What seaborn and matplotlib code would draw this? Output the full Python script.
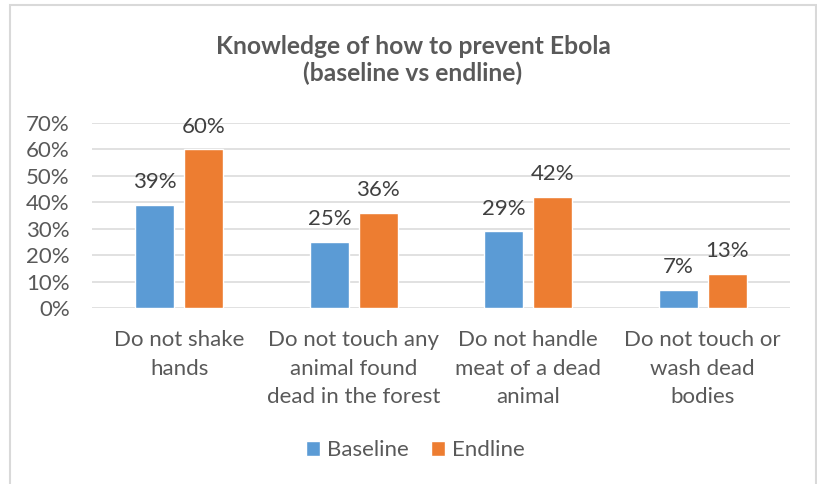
import matplotlib
matplotlib.use("Agg")
import matplotlib.pyplot as plt
import seaborn as sns
import pandas as pd
from matplotlib.patches import Rectangle

categories = ["Do not shake\nhands",
              "Do not touch any\nanimal found\ndead in the forest",
              "Do not handle\nmeat of a dead\nanimal",
              "Do not touch or\nwash dead\nbodies"]
series_names = ["Baseline", "Endline"]
baseline = [39, 25, 29, 7]
endline = [60, 36, 42, 13]
yticks = [0, 10, 20, 30, 40, 50, 60, 70]
title = "Knowledge of how to prevent Ebola\n(baseline vs endline)"

df = pd.DataFrame({
    "category": categories * 2,
    "series": [series_names[0]] * len(categories) + [series_names[1]] * len(categories),
    "value": baseline + endline,
})

sns.set_theme(style="white")
plt.rcParams["font.family"] = ["Lato", "DejaVu Sans"]

W, H = 817, 484
FS = 16
fig = plt.figure(figsize=(W / 100, H / 100), dpi=100)
ax = fig.add_axes([92 / W, 1 - 308 / H, (790 - 92) / W, (308 - 123) / H])

sns.barplot(data=df, x="category", y="value", hue="series",
            palette=["#5B9BD5", "#ED7D31"], width=0.56, gap=0.2,
            saturation=1, ax=ax)

ax.set_xlim(-0.5, len(categories) - 0.5)
ax.set_ylim(0, 70)
ax.set_yticks(yticks)
ax.set_yticklabels([f"{t}%" for t in yticks])
ax.yaxis.grid(True, color="#D9D9D9", linewidth=1.1)
ax.set_axisbelow(True)
for s in ax.spines.values():
    s.set_visible(False)
ax.set_xlabel("")
ax.set_ylabel("")
ax.tick_params(axis="y", length=0, pad=16, labelsize=FS, labelcolor="#595959")
ax.tick_params(axis="x", length=0, pad=16, labelsize=FS, labelcolor="#595959")
for lab in ax.get_xticklabels():
    lab.set_linespacing(1.52)

for c in ax.containers:
    ax.bar_label(c, fmt="%d%%", padding=9, fontsize=FS, color="#404040")

sns.move_legend(ax, loc="center", bbox_to_anchor=(415 / W, 1 - 450 / H),
                bbox_transform=fig.transFigure, ncol=2, frameon=False,
                title=None, fontsize=FS, handlelength=0.65, handleheight=0.65,
                handletextpad=0.3, columnspacing=1.0)
for t in ax.get_legend().get_texts():
    t.set_color("#595959")

fig.text(413 / W, 1 - 60 / H, title, ha="center", va="center",
         fontsize=17.7, fontweight="bold", color="#595959", linespacing=1.22)

fig.patches.append(Rectangle((10 / W, -0.05), (816 - 10) / W, 1.05 - 5 / H,
                             transform=fig.transFigure, fill=False,
                             edgecolor="#D9D9D9", linewidth=1.5))

fig.savefig("out.png", dpi=100)
